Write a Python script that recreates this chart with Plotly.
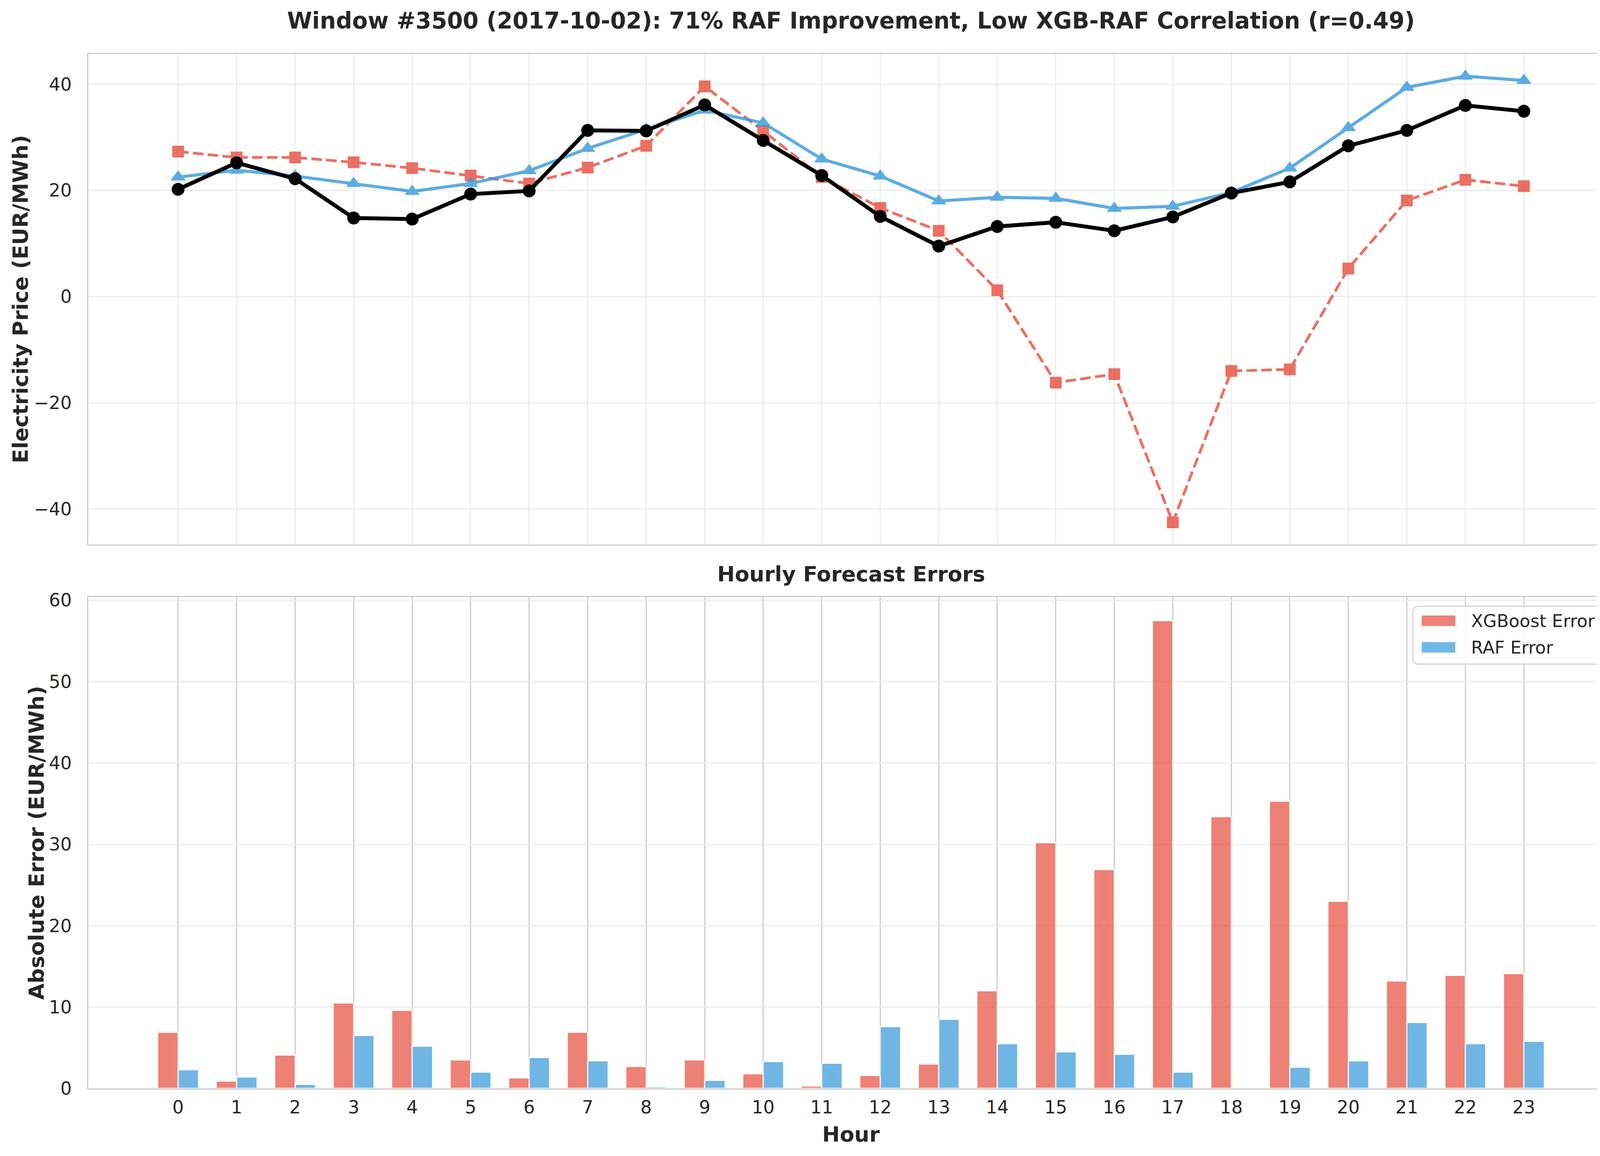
import plotly.graph_objects as go

hours = list(range(24))
actual = [20.2, 25.2, 22.2, 14.8, 14.6, 19.3, 19.9, 31.3, 31.2, 36.1, 29.4, 22.8,
          15.1, 9.5, 13.2, 14.0, 12.4, 15.0, 19.5, 21.6, 28.4, 31.3, 36.0, 34.9]
xgb_pred = [27.3, 26.2, 26.2, 25.3, 24.2, 22.8, 21.3, 24.3, 28.4, 39.6, 31.2, 22.5,
            16.7, 12.4, 1.2, -16.2, -14.6, -42.5, -14.0, -13.7, 5.3, 18.1, 22.0, 20.8]
raf_pred = [22.5, 23.8, 22.7, 21.3, 19.8, 21.3, 23.7, 27.9, 31.5, 35.1, 32.7, 25.9,
            22.7, 18.0, 18.7, 18.5, 16.6, 17.0, 19.6, 24.2, 31.8, 39.4, 41.5, 40.7]
xgb_err = [6.9, 0.9, 4.1, 10.5, 9.6, 3.5, 1.3, 6.9, 2.7, 3.5, 1.8, 0.3,
           1.6, 3.0, 12.0, 30.2, 26.9, 57.5, 33.4, 35.3, 23.0, 13.2, 13.9, 14.1]
raf_err = [2.3, 1.4, 0.5, 6.5, 5.2, 2.0, 3.8, 3.4, 0.2, 1.0, 3.3, 3.1,
           7.6, 8.5, 5.5, 4.5, 4.2, 2.0, 0.1, 2.6, 3.4, 8.1, 5.5, 5.8]
legend_labels = ["XGBoost Error", "RAF Error"]

title_text = "Window #3500 (2017-10-02): 71% RAF Improvement, Low XGB-RAF Correlation (r=0.49)"
sub_title = "Hourly Forecast Errors"
ylabel_top = "Electricity Price (EUR/MWh)"
ylabel_bottom = "Absolute Error (EUR/MWh)"
xlabel = "Hour"

RED = "#e74c3c"
BLUE = "#3498db"
TXT = "#262626"
FONT = "DejaVu Sans"

# page body has an 8px margin; shrink the figure so the page fits the window
OFF = 8
W, H = 4159 - 2 * OFF, 2959 - 2 * OFF
L, R, T, B = 226 - OFF, 28 - OFF, 138 - OFF, 173 - OFF
PW = W - L - R
PH = H - T - B

def fy(p):  # reference pixel y -> paper fraction
    return (H - B - (p - OFF)) / PH

def fx(p):  # reference pixel x -> paper fraction
    return ((p - OFF) - L) / PW

fig = go.Figure()

# Top panel
fig.add_trace(go.Scatter(
    x=hours, y=xgb_pred, mode="lines+markers", name="XGBoost Forecast",
    line=dict(color=RED, width=7, dash="27px,11px"),
    marker=dict(symbol="square", size=28, color=RED, line=dict(color=RED, width=2)),
    opacity=0.8, xaxis="x", yaxis="y", showlegend=False))
fig.add_trace(go.Scatter(
    x=hours, y=raf_pred, mode="lines+markers", name="RAF Forecast",
    line=dict(color=BLUE, width=8),
    marker=dict(symbol="triangle-up", size=31, color=BLUE, line=dict(color=BLUE, width=2)),
    opacity=0.8, xaxis="x", yaxis="y", showlegend=False))
fig.add_trace(go.Scatter(
    x=hours, y=actual, mode="lines+markers", name="Actual",
    line=dict(color="black", width=10),
    marker=dict(symbol="circle", size=33, color="black"),
    xaxis="x", yaxis="y", showlegend=False))

# Bottom panel
fig.add_trace(go.Bar(
    x=hours, y=xgb_err, name=legend_labels[0], width=0.35, offset=-0.35,
    marker=dict(color=RED, line=dict(color="white", width=3)), opacity=0.7,
    xaxis="x2", yaxis="y2", showlegend=False))
fig.add_trace(go.Bar(
    x=hours, y=raf_err, name=legend_labels[1], width=0.35, offset=0.0,
    marker=dict(color=BLUE, line=dict(color="white", width=3)), opacity=0.7,
    xaxis="x2", yaxis="y2", showlegend=False))

xr = [-1.535, 24.535]
common_axis = dict(showline=True, linecolor="#cccccc", linewidth=3, mirror=True,
                   zeroline=False, tickfont=dict(size=46, color=TXT, family=FONT))

# custom legend (box with rounded corners, swatches, labels)
def rounded_rect(x0, y0, x1, y1, r):
    X = lambda p: fx(p)
    Y = lambda p: fy(p)
    return (f"M {X(x0 + r)},{Y(y0)} L {X(x1 - r)},{Y(y0)} Q {X(x1)},{Y(y0)} {X(x1)},{Y(y0 + r)} "
            f"L {X(x1)},{Y(y1 - r)} Q {X(x1)},{Y(y1)} {X(x1 - r)},{Y(y1)} "
            f"L {X(x0 + r)},{Y(y1)} Q {X(x0)},{Y(y1)} {X(x0)},{Y(y1 - r)} "
            f"L {X(x0)},{Y(y0 + r)} Q {X(x0)},{Y(y0)} {X(x0 + r)},{Y(y0)} Z")

shapes = [dict(type="path", xref="paper", yref="paper",
               path=rounded_rect(3617, 1552, 4104, 1700, 14),
               fillcolor="rgba(255,255,255,0.8)", line=dict(color="#d4d4d4", width=3),
               layer="above")]
lab_font = dict(size=54, color=TXT, family=FONT)
annotations = [
    dict(text="<b>" + sub_title + "</b>", x=0.5, xref="paper",
         y=fy(1469), yref="paper", yanchor="middle", showarrow=False, font=lab_font),
    dict(text="<b>" + ylabel_top + "</b>", x=fx(53), xref="paper", y=fy(766), yref="paper",
         xanchor="center", yanchor="middle", textangle=-90, showarrow=False, font=lab_font),
    dict(text="<b>" + ylabel_bottom + "</b>", x=fx(93), xref="paper", y=fy(2157), yref="paper",
         xanchor="center", yanchor="middle", textangle=-90, showarrow=False, font=lab_font),
]
legend_rows = [(1589, RED), (1657, BLUE)]
for (yc, col), lab in zip(legend_rows, legend_labels):
    shapes.append(dict(type="rect", xref="paper", yref="paper",
                       x0=fx(3638), x1=fx(3727), y0=fy(yc - 15), y1=fy(yc + 15),
                       fillcolor=col, opacity=0.7, line=dict(color="white", width=3),
                       layer="above"))
    annotations.append(dict(text=lab, x=fx(3764), xref="paper", y=fy(yc), yref="paper",
                            xanchor="left", yanchor="middle", showarrow=False,
                            font=dict(size=45, color=TXT, family=FONT)))

fig.update_layout(
    width=W, height=H,
    margin=dict(l=L, r=R, t=T, b=B, autoexpand=False),
    paper_bgcolor="white", plot_bgcolor="white",
    font=dict(family=FONT, color=TXT),
    barmode="overlay",
    showlegend=False,
    title=dict(text="<b>" + title_text + "</b>", x=0.5, xref="paper",
               y=1 - (53 - OFF) / H, yref="container", yanchor="middle",
               font=dict(size=58, color=TXT, family=FONT)),
    xaxis=dict(domain=[0, 1], range=xr, anchor="y", tickvals=hours,
               showticklabels=False, showgrid=True, gridcolor="#ececec", gridwidth=3,
               **common_axis),
    yaxis=dict(domain=[fy(1394), 1.0], range=[-46.7, 45.7], anchor="x",
               tickvals=[-40, -20, 0, 20, 40], showgrid=True, gridcolor="#ececec", gridwidth=3,
               ticks="outside", ticklen=30, tickcolor="rgba(0,0,0,0)",
               **common_axis),
    xaxis2=dict(domain=[0, 1], range=xr, anchor="y2", matches="x", tickvals=hours,
                showgrid=True, gridcolor="#cccccc", gridwidth=3,
                ticks="outside", ticklen=6, tickcolor="rgba(0,0,0,0)",
                title=dict(text="<b>" + xlabel + "</b>", standoff=24, font=lab_font),
                **common_axis),
    yaxis2=dict(domain=[0, fy(1528)], range=[0, 60.4], anchor="x2",
                tickvals=[0, 10, 20, 30, 40, 50, 60], showgrid=True, gridcolor="#ececec",
                gridwidth=3, ticks="outside", ticklen=30, tickcolor="rgba(0,0,0,0)",
                **common_axis),
    shapes=shapes,
    annotations=annotations,
)

fig.write_html("out.html")
